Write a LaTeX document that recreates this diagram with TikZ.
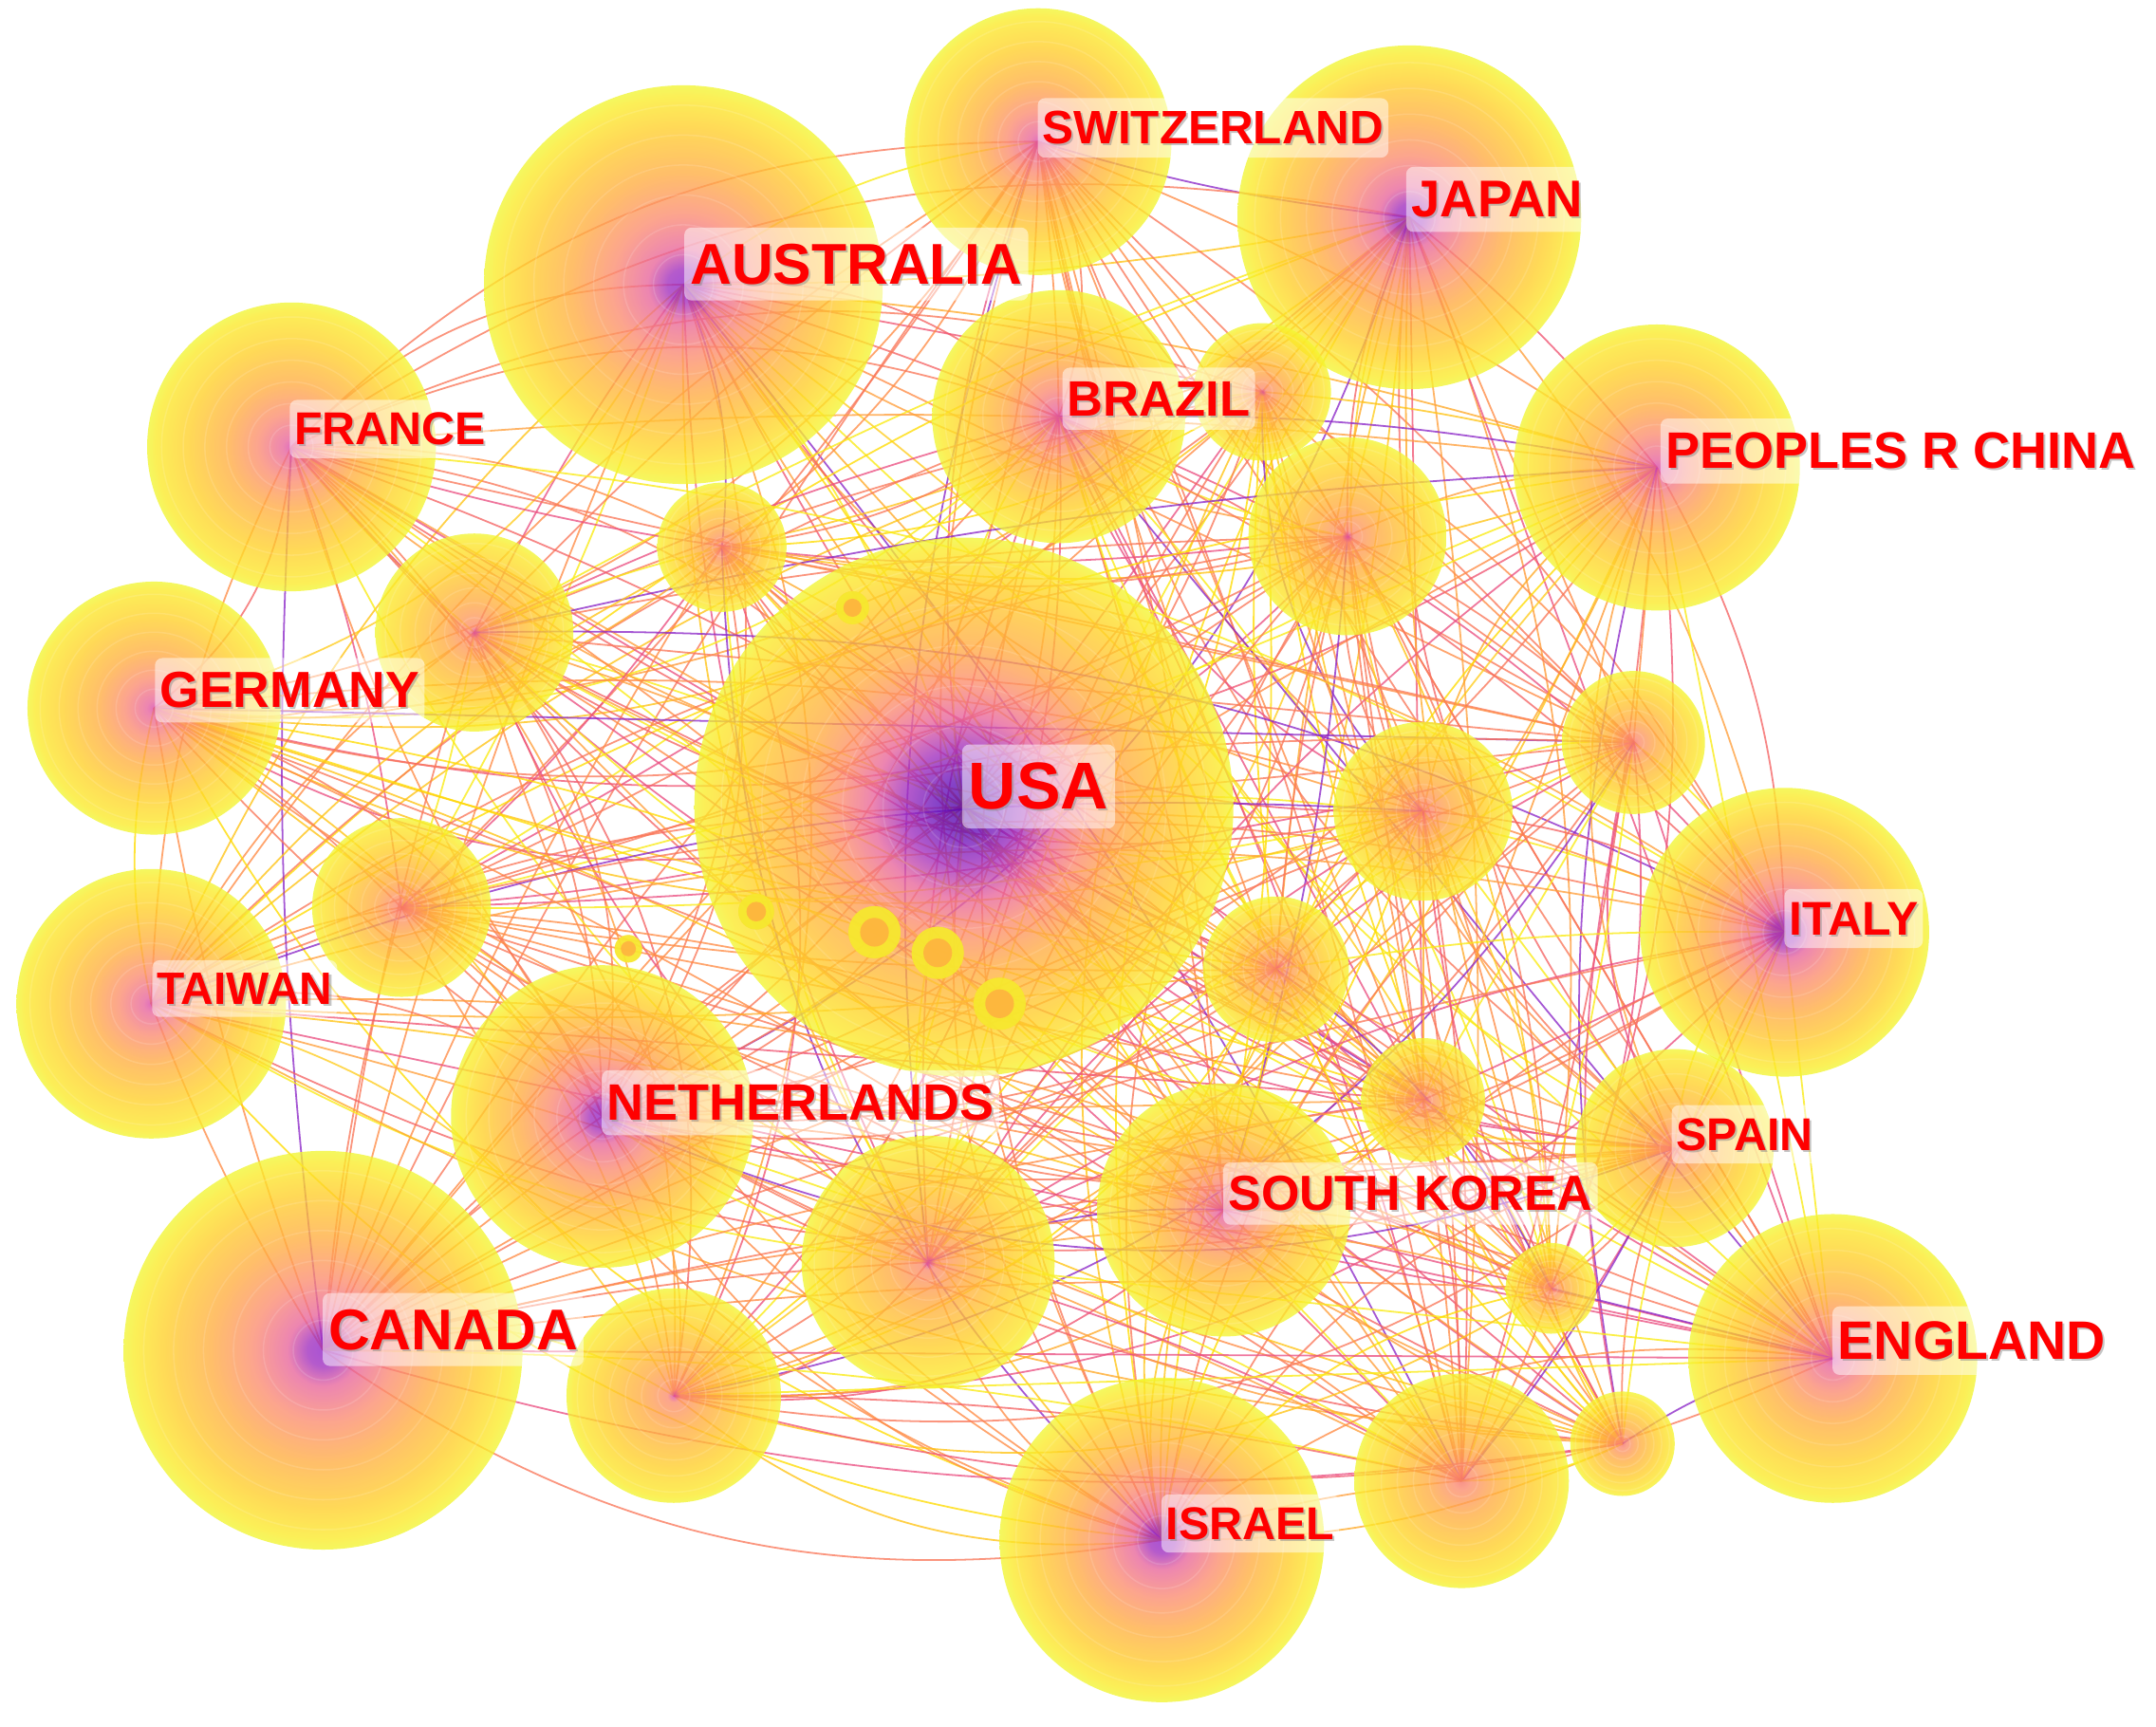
\documentclass[tikz,border=0pt]{standalone}
\usepackage{fontspec}
\setmainfont{Liberation Sans}
\usetikzlibrary{calc}

\definecolor{hA0}{RGB}{75,0,165}
\definecolor{hA1}{RGB}{100,15,185}
\definecolor{hA2}{RGB}{160,45,190}
\definecolor{hPk}{RGB}{232,100,155}
\definecolor{hSa}{RGB}{252,140,110}
\definecolor{hOr}{RGB}{255,172,65}
\definecolor{hYo}{RGB}{255,208,40}
\definecolor{hYl}{RGB}{252,234,40}
\definecolor{hRm}{RGB}{242,246,50}
\definecolor{hMg}{RGB}{215,70,170}
\definecolor{hPu}{RGB}{145,35,200}
\definecolor{hRd}{RGB}{245,115,105}

\definecolor{ec0}{RGB}{255,220,0}
\definecolor{ec1}{RGB}{250,235,20}
\definecolor{ec2}{RGB}{255,170,40}
\definecolor{ec3}{RGB}{255,140,70}
\definecolor{ec4}{RGB}{240,85,115}
\definecolor{ec5}{RGB}{235,80,130}
\definecolor{ec6}{RGB}{255,195,20}
\definecolor{ec7}{RGB}{255,160,60}
\definecolor{ec8}{RGB}{255,155,55}
\definecolor{ec9}{RGB}{250,120,90}
\definecolor{ec10}{RGB}{255,205,30}
\definecolor{ec11}{RGB}{245,100,100}
\definecolor{ecP}{RGB}{140,40,200}

\pgfdeclareradialshading{hotUSA}{\pgfpoint{0bp}{0bp}}{color(0bp)=(hA0); color(2.5bp)=(hA1); color(5.5bp)=(hA2); color(8.5bp)=(hPk); color(11.5bp)=(hSa); color(15bp)=(hOr); color(20.5bp)=(hYo); color(24bp)=(hYl); color(25bp)=(hRm); color(50bp)=(hRm)}
\pgfdeclareradialshading{hotBig}{\pgfpoint{0bp}{0bp}}{color(0bp)=(hPu); color(2bp)=(hA2); color(4.5bp)=(hPk); color(9bp)=(hSa); color(14bp)=(hOr); color(20bp)=(hYo); color(23.5bp)=(hYl); color(25bp)=(hRm); color(50bp)=(hRm)}
\pgfdeclareradialshading{hotMid}{\pgfpoint{0bp}{0bp}}{color(0bp)=(hMg); color(1.5bp)=(hPk); color(6bp)=(hSa); color(11bp)=(hOr); color(18bp)=(hYo); color(23.5bp)=(hYl); color(25bp)=(hRm); color(50bp)=(hRm)}
\pgfdeclareradialshading{hotSmall}{\pgfpoint{0bp}{0bp}}{color(0bp)=(hRd); color(2bp)=(hSa); color(8bp)=(hOr); color(17bp)=(hYo); color(23.5bp)=(hYl); color(25bp)=(hRm); color(50bp)=(hRm)}
\pgfdeclareradialshading{hotSmallM}{\pgfpoint{0bp}{0bp}}{color(0bp)=(hMg); color(1.5bp)=(hSa); color(8bp)=(hOr); color(17bp)=(hYo); color(23.5bp)=(hYl); color(25bp)=(hRm); color(50bp)=(hRm)}

\tikzset{
  edge/.style={line width=0.35pt, opacity=0.78},
  ring/.style={draw=white, opacity=0.13, line width=0.3pt},
  lbox/.style={anchor=west, fill=white, fill opacity=0.5, text opacity=0, rounded corners=1.5pt},
  ltext/.style={inner sep=0pt, anchor=center},
}

\newcommand\ctylabel[5]{%
  \node[lbox, inner xsep=#4*0.1pt, inner ysep=#4*0.28pt, font=\fontsize{#4}{#4}\selectfont\bfseries] (#1) at (#2,#3) {#5};
  \node[ltext, text=black!45, text opacity=0.5, font=\fontsize{#4}{#4}\selectfont\bfseries] (#1s) at ([shift={(1.4,1.4)}]#1.center) {#5};
  \node[ltext, text=red, font=\fontsize{#4}{#4}\selectfont\bfseries] (#1t) at (#1.center) {#5};
}

\def\nodelist{1/701/587/196/hotUSA, 2/497/207/145/hotBig, 25/235/982/145/hotBig, 4/1025/158/125/hotBig, 28/845/1120/118/hotBig, 19/438/812/110/hotBig, 7/212/325/105/hotMid, 17/1298/678/105/hotBig, 27/1333/988/105/hotMid, 8/1205/340/104/hotMid, 16/110/730/98/hotMid, 3/755/103/97/hotMid, 5/770/303/92/hotMid, 12/112/515/92/hotMid, 22/890/880/92/hotMid, 23/675/918/92/hotSmallM, 26/490/1015/78/hotSmallM, 29/1063/1077/78/hotSmall, 9/980/390/72/hotSmallM, 11/345/460/72/hotSmallM, 21/1218/835/72/hotSmall, 14/1035/590/65/hotSmall, 15/292/660/65/hotSmall, 18/928/705/53/hotSmall, 13/1188/540/52/hotSmall, 6/918/285/50/hotSmallM, 10/525/398/47/hotSmall, 20/1035/800/45/hotSmall, 30/1180/1050/38/hotSmall, 24/1128/937/33/hotSmall}

\begin{document}
\begin{tikzpicture}[x=0.01cm, y=-0.01cm]
\fill[white] (0,0) rectangle (1568,1256);
\useasboundingbox (0,0) rectangle (1568,1256);

% node centres
\foreach \i/\x/\y/\r/\s in \nodelist {
  \coordinate (n\i) at (\x,\y);
}

% connectors
\foreach \i in {1,...,29}{
  \pgfmathtruncatemacro\ip{\i+1}
  \foreach \j in {\ip,...,30}{
    \pgfmathtruncatemacro\k{mod(\i*7+\j*11,7)}
    \pgfmathtruncatemacro\c{mod(\i*5+\j*3+\i*\j,12)}
    \pgfmathtruncatemacro\pp{mod(\i*\j+\i+2*\j,19)}
    \ifnum\pp=4\relax\def\ecol{ecP}\else\edef\ecol{ec\c}\fi
    \pgfmathsetmacro\b{{-22,-12,-5,0,6,14,24}[\k]}
    \draw[edge, draw=\ecol] (n\i) to[bend left=\b] (n\j);
  }
}

% country nodes
\foreach \i/\x/\y/\r/\s in \nodelist {
  \shade[shading=\s, fill opacity=0.78] (n\i) circle[radius=\r*0.01cm];
  \foreach \f in {0.15,0.3,0.45,0.6,0.75,0.9}{
    \draw[ring] (n\i) circle[radius=\f*\r*0.01cm];
  }
}

% small nodes inside USA
\foreach \x/\y/\r [count=\m] in {620/442/12, 550/663/13, 636/678/19, 682/693/19, 727/730/19, 457/690/10}{
  \coordinate (s\m) at (\x,\y);
  \fill[hYo, opacity=0.85] (s\m) circle[radius=\r*0.01cm];
  \fill[hRm, opacity=0.6] (s\m) circle[radius=\r*0.01cm];
  \fill[hOr, opacity=0.8] (s\m) circle[radius=\r*0.0055cm];
}

% labels
\ctylabel{lUSA}{699}{572}{13.7}{USA}
\ctylabel{lAUS}{497}{192}{11.9}{AUSTRALIA}
\ctylabel{lSWI}{754}{93}{9.7}{SWITZERLAND}
\ctylabel{lJAP}{1022}{145}{10.7}{JAPAN}
\ctylabel{lBRA}{772}{290}{10.3}{BRAZIL}
\ctylabel{lFRA}{210}{312}{9.5}{FRANCE}
\ctylabel{lCHN}{1207}{328}{10.6}{PEOPLES R CHINA}
\ctylabel{lGER}{112}{502}{10.5}{GERMANY}
\ctylabel{lTAI}{110}{719}{9.4}{TAIWAN}
\ctylabel{lITA}{1297}{668}{9.8}{ITALY}
\ctylabel{lNET}{437}{802}{10.6}{NETHERLANDS}
\ctylabel{lSPA}{1215}{825}{9.5}{SPAIN}
\ctylabel{lSKO}{889}{868}{10.2}{SOUTH KOREA}
\ctylabel{lCAN}{234}{967}{11.9}{CANADA}
\ctylabel{lENG}{1332}{975}{11.2}{ENGLAND}
\ctylabel{lISR}{844}{1108}{9.5}{ISRAEL}
\end{tikzpicture}
\end{document}
